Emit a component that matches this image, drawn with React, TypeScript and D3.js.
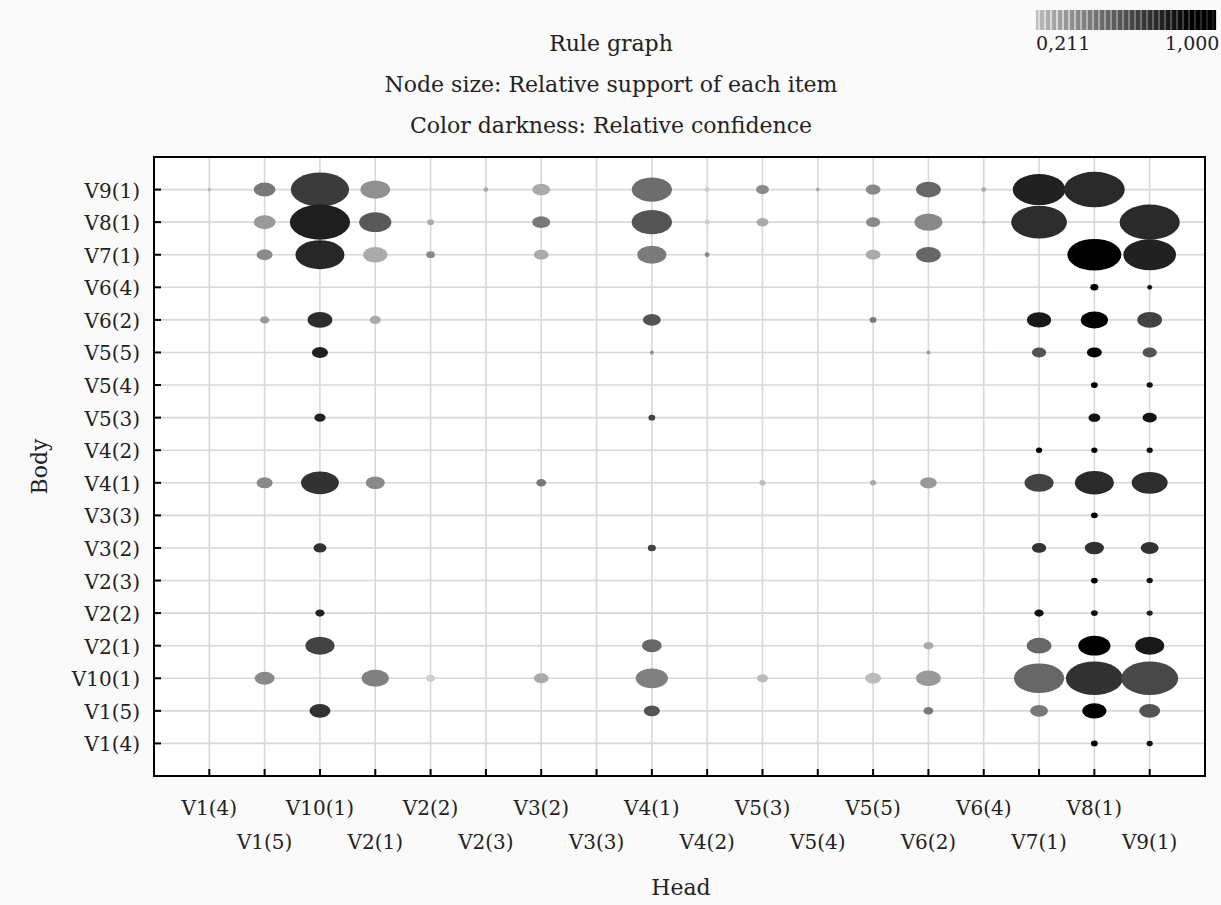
import { useEffect, useRef } from 'react';
import * as d3 from 'd3';

const WIDTH = 1221;
const HEIGHT = 905;

const items = ['V1(4)', 'V1(5)', 'V10(1)', 'V2(1)', 'V2(2)', 'V2(3)', 'V3(2)', 'V3(3)', 'V4(1)', 'V4(2)',
  'V5(3)', 'V5(4)', 'V5(5)', 'V6(2)', 'V6(4)', 'V7(1)', 'V8(1)', 'V9(1)'];

const titleLines = ['Rule graph', 'Node size: Relative support of each item', 'Color darkness: Relative confidence'];
const confidenceRange = [0.211, 1.0];
const legendLabels = ['0,211', '1,000'];

// [body, head, relative support, confidence]
const rules: [string, string, number, number][] = [
  ['V9(1)', 'V1(4)', 0.06, 0.33], ['V9(1)', 'V1(5)', 0.35, 0.57], ['V9(1)', 'V10(1)', 0.94, 0.79],
  ['V9(1)', 'V2(1)', 0.48, 0.48], ['V9(1)', 'V2(2)', 0.06, 0.21], ['V9(1)', 'V2(3)', 0.08, 0.39],
  ['V9(1)', 'V3(2)', 0.29, 0.39], ['V9(1)', 'V4(1)', 0.65, 0.61], ['V9(1)', 'V4(2)', 0.08, 0.27],
  ['V9(1)', 'V5(3)', 0.21, 0.51], ['V9(1)', 'V5(4)', 0.06, 0.39], ['V9(1)', 'V5(5)', 0.24, 0.51],
  ['V9(1)', 'V6(2)', 0.4, 0.63], ['V9(1)', 'V6(4)', 0.08, 0.39], ['V9(1)', 'V7(1)', 0.85, 0.88],
  ['V9(1)', 'V8(1)', 0.98, 0.85],

  ['V8(1)', 'V1(4)', 0.05, 0.21], ['V8(1)', 'V1(5)', 0.35, 0.45], ['V8(1)', 'V10(1)', 0.97, 0.89],
  ['V8(1)', 'V2(1)', 0.52, 0.68], ['V8(1)', 'V2(2)', 0.11, 0.39], ['V8(1)', 'V2(3)', 0.05, 0.21],
  ['V8(1)', 'V3(2)', 0.29, 0.57], ['V8(1)', 'V3(3)', 0.05, 0.21], ['V8(1)', 'V4(1)', 0.65, 0.7],
  ['V8(1)', 'V4(2)', 0.08, 0.27], ['V8(1)', 'V5(3)', 0.19, 0.39], ['V8(1)', 'V5(4)', 0.08, 0.21],
  ['V8(1)', 'V5(5)', 0.23, 0.51], ['V8(1)', 'V6(2)', 0.45, 0.51], ['V8(1)', 'V6(4)', 0.06, 0.27],
  ['V8(1)', 'V7(1)', 0.9, 0.84], ['V8(1)', 'V9(1)', 0.97, 0.85],

  ['V7(1)', 'V1(5)', 0.26, 0.5], ['V7(1)', 'V10(1)', 0.79, 0.86], ['V7(1)', 'V2(1)', 0.39, 0.39],
  ['V7(1)', 'V2(2)', 0.14, 0.51], ['V7(1)', 'V3(2)', 0.24, 0.39], ['V7(1)', 'V4(1)', 0.47, 0.56],
  ['V7(1)', 'V4(2)', 0.08, 0.51], ['V7(1)', 'V5(5)', 0.24, 0.39], ['V7(1)', 'V6(2)', 0.4, 0.63],
  ['V7(1)', 'V8(1)', 0.87, 1.0], ['V7(1)', 'V9(1)', 0.85, 0.88],

  ['V6(4)', 'V8(1)', 0.13, 1.0], ['V6(4)', 'V9(1)', 0.08, 0.94],

  ['V6(2)', 'V1(5)', 0.15, 0.45], ['V6(2)', 'V10(1)', 0.4, 0.84], ['V6(2)', 'V2(1)', 0.18, 0.39],
  ['V6(2)', 'V4(1)', 0.29, 0.7], ['V6(2)', 'V5(5)', 0.11, 0.57], ['V6(2)', 'V7(1)', 0.39, 0.91],
  ['V6(2)', 'V8(1)', 0.44, 1.0], ['V6(2)', 'V9(1)', 0.4, 0.76],

  ['V5(5)', 'V10(1)', 0.26, 0.88], ['V5(5)', 'V4(1)', 0.06, 0.51], ['V5(5)', 'V6(2)', 0.06, 0.45],
  ['V5(5)', 'V7(1)', 0.23, 0.7], ['V5(5)', 'V8(1)', 0.24, 1.0], ['V5(5)', 'V9(1)', 0.23, 0.7],

  ['V5(4)', 'V8(1)', 0.11, 1.0], ['V5(4)', 'V9(1)', 0.1, 0.94],

  ['V5(3)', 'V10(1)', 0.18, 0.88], ['V5(3)', 'V4(1)', 0.11, 0.76], ['V5(3)', 'V8(1)', 0.19, 0.94],
  ['V5(3)', 'V9(1)', 0.23, 0.94],

  ['V4(2)', 'V7(1)', 0.1, 1.0], ['V4(2)', 'V8(1)', 0.1, 1.0], ['V4(2)', 'V9(1)', 0.1, 0.94],

  ['V4(1)', 'V1(5)', 0.26, 0.51], ['V4(1)', 'V10(1)', 0.61, 0.82], ['V4(1)', 'V2(1)', 0.31, 0.51],
  ['V4(1)', 'V3(2)', 0.16, 0.57], ['V4(1)', 'V5(3)', 0.1, 0.33], ['V4(1)', 'V5(5)', 0.1, 0.39],
  ['V4(1)', 'V6(2)', 0.27, 0.45], ['V4(1)', 'V7(1)', 0.47, 0.76], ['V4(1)', 'V8(1)', 0.63, 0.85],
  ['V4(1)', 'V9(1)', 0.58, 0.84],

  ['V3(3)', 'V8(1)', 0.11, 1.0],

  ['V3(2)', 'V10(1)', 0.21, 0.82], ['V3(2)', 'V4(1)', 0.13, 0.76], ['V3(2)', 'V7(1)', 0.23, 0.82],
  ['V3(2)', 'V8(1)', 0.31, 0.82], ['V3(2)', 'V9(1)', 0.29, 0.82],

  ['V2(3)', 'V8(1)', 0.11, 1.0], ['V2(3)', 'V9(1)', 0.1, 0.94],

  ['V2(2)', 'V10(1)', 0.15, 0.88], ['V2(2)', 'V7(1)', 0.15, 0.94], ['V2(2)', 'V8(1)', 0.11, 0.94],
  ['V2(2)', 'V9(1)', 0.1, 0.88],

  ['V2(1)', 'V10(1)', 0.47, 0.76], ['V2(1)', 'V4(1)', 0.32, 0.63], ['V2(1)', 'V6(2)', 0.16, 0.39],
  ['V2(1)', 'V7(1)', 0.4, 0.63], ['V2(1)', 'V8(1)', 0.52, 1.0], ['V2(1)', 'V9(1)', 0.47, 0.91],

  ['V10(1)', 'V1(5)', 0.32, 0.51], ['V10(1)', 'V2(1)', 0.44, 0.54], ['V10(1)', 'V2(2)', 0.15, 0.27],
  ['V10(1)', 'V3(2)', 0.24, 0.39], ['V10(1)', 'V4(1)', 0.52, 0.54], ['V10(1)', 'V5(3)', 0.18, 0.33],
  ['V10(1)', 'V5(5)', 0.26, 0.33], ['V10(1)', 'V6(2)', 0.4, 0.45], ['V10(1)', 'V7(1)', 0.81, 0.63],
  ['V10(1)', 'V8(1)', 0.92, 0.82], ['V10(1)', 'V9(1)', 0.92, 0.74],

  ['V1(5)', 'V10(1)', 0.34, 0.82], ['V1(5)', 'V4(1)', 0.26, 0.7], ['V1(5)', 'V6(2)', 0.16, 0.57],
  ['V1(5)', 'V7(1)', 0.29, 0.57], ['V1(5)', 'V8(1)', 0.39, 1.0], ['V1(5)', 'V9(1)', 0.34, 0.7],

  ['V1(4)', 'V8(1)', 0.11, 1.0], ['V1(4)', 'V9(1)', 0.1, 0.94],
];

const FONT = '"DejaVu Serif", serif';

const RuleGraph = () => {
  const svgRef = useRef<SVGSVGElement>(null);

  useEffect(() => {
    const svg = d3.select(svgRef.current);
    svg.selectAll('*').remove();

    const plot = { left: 154, right: 1205, top: 157, bottom: 776 };

    const x = d3.scalePoint<string>().domain(items).range([plot.left, plot.right]).padding(1);
    const y = d3.scalePoint<string>().domain(items).range([plot.bottom, plot.top]).padding(1);
    const width = d3.scaleLinear().domain([0, 1]).range([0, 62]);
    const color = d3.scaleLinear<string>().domain(confidenceRange).range(['#dcdcdc', '#000000']).clamp(true);

    svg.append('rect').attr('width', WIDTH).attr('height', HEIGHT).attr('fill', '#fafafa');
    svg.append('rect')
      .attr('x', plot.left).attr('y', plot.top)
      .attr('width', plot.right - plot.left).attr('height', plot.bottom - plot.top)
      .attr('fill', '#fff');

    // grid
    const grid = svg.append('g').attr('stroke', '#d8d8d8').attr('stroke-width', 1.6);
    grid.selectAll('line.v').data(items).enter().append('line')
      .attr('x1', d => x(d)!).attr('x2', d => x(d)!)
      .attr('y1', plot.top).attr('y2', plot.bottom);
    grid.selectAll('line.h').data(items).enter().append('line')
      .attr('y1', d => y(d)!).attr('y2', d => y(d)!)
      .attr('x1', plot.left).attr('x2', plot.right);

    // bubbles
    svg.append('g').selectAll('ellipse').data(rules).enter().append('ellipse')
      .attr('cx', d => x(d[1])!)
      .attr('cy', d => y(d[0])!)
      .attr('rx', d => width(d[2]) / 2)
      .attr('ry', d => (0.55 * width(d[2]) + 2) / 2)
      .attr('fill', d => color(d[3]));

    // frame + inside ticks
    svg.append('rect')
      .attr('x', plot.left).attr('y', plot.top)
      .attr('width', plot.right - plot.left).attr('height', plot.bottom - plot.top)
      .attr('fill', 'none').attr('stroke', '#000').attr('stroke-width', 2);
    const ticks = svg.append('g').attr('stroke', '#000').attr('stroke-width', 2);
    ticks.selectAll('line.y').data(items).enter().append('line')
      .attr('x1', plot.left).attr('x2', plot.left + 7)
      .attr('y1', d => y(d)!).attr('y2', d => y(d)!);
    ticks.selectAll('line.x').data(items).enter().append('line')
      .attr('x1', d => x(d)!).attr('x2', d => x(d)!)
      .attr('y1', plot.bottom).attr('y2', plot.bottom - 7);

    const text = svg.append('g').attr('font-family', FONT).attr('fill', '#222');

    // y labels
    text.selectAll('text.y').data(items).enter().append('text')
      .attr('x', 140).attr('y', d => y(d)! + 8)
      .attr('text-anchor', 'end').attr('font-size', 20)
      .text(d => d);

    // x labels, staggered in two rows
    text.selectAll('text.x').data(items).enter().append('text')
      .attr('x', d => x(d)!)
      .attr('y', (d, i) => (i % 2 === 0 ? 815 : 849))
      .attr('text-anchor', 'middle').attr('font-size', 20)
      .text(d => d);

    text.append('text')
      .attr('x', 681).attr('y', 895)
      .attr('text-anchor', 'middle').attr('font-size', 22)
      .text('Head');
    text.append('text')
      .attr('transform', `translate(47,${(plot.top + plot.bottom) / 2}) rotate(-90)`)
      .attr('text-anchor', 'middle').attr('font-size', 22)
      .text('Body');

    text.selectAll('text.title').data(titleLines).enter().append('text')
      .attr('x', 611).attr('y', (d, i) => 51 + i * 41)
      .attr('text-anchor', 'middle').attr('font-size', 22)
      .text(d => d);

    // colour legend (striped bar)
    const legendX = d3.scaleLinear().domain(confidenceRange).range([1036, 1216]);
    const stops = d3.range(confidenceRange[0], confidenceRange[1], 0.789 / 90);
    svg.append('g').selectAll('rect').data(stops).enter().append('rect')
      .attr('x', d => legendX(d))
      .attr('y', 10)
      .attr('width', 2.1)
      .attr('height', 20)
      .attr('fill', (d, i) => color(i % 3 === 1 ? d - 0.08 : d + 0.12));

    text.append('text').attr('x', 1036).attr('y', 50).attr('font-size', 19).text(legendLabels[0]);
    text.append('text').attr('x', 1165).attr('y', 50).attr('font-size', 19).text(legendLabels[1]);
  }, []);

  return (
    <svg ref={svgRef} width={WIDTH} height={HEIGHT}
      style={{ position: 'absolute', left: 0, top: 0, display: 'block' }} />
  );
};

export default function App() {
  return <RuleGraph />;
}
